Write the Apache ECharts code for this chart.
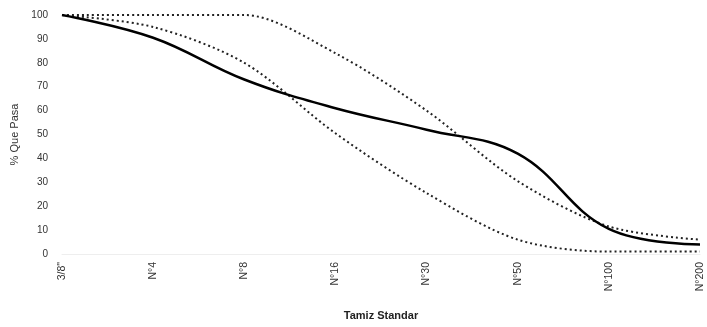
<!DOCTYPE html>
<html><head><meta charset="utf-8">
<script src="https://cdn.jsdelivr.net/npm/echarts@6/dist/echarts.min.js"></script>
<style>html,body{margin:0;padding:0;background:#fff}#c{width:707px;height:327px}</style>
</head><body><div id="c"></div>
<script>
const categories = ['3/8"', 'N°4', 'N°8', 'N°16', 'N°30', 'N°50', 'N°100', 'N°200'];
const muestra = [100, 90.5, 73, 61, 52, 42, 10.5, 4];
const limiteSuperior = [100, 100, 100, 84, 60, 30.5, 11.5, 6];
const limiteInferior = [100, 95, 80, 50.5, 25.5, 6, 1, 1];
const yTicks = [0, 10, 20, 30, 40, 50, 60, 70, 80, 90, 100];

const chart = echarts.init(document.getElementById('c'));
const font = 'Liberation Sans';
chart.setOption({
  animation: false,
  grid: {left: 62, right: 7, top: 15, bottom: 73},
  xAxis: {
    type: 'category', data: categories, boundaryGap: false,
    axisLine: {show: true, lineStyle: {color: '#eeeeee'}},
    axisTick: {show: false},
    axisLabel: {rotate: 90, margin: 8, fontSize: 10.5, color: '#333', fontFamily: font},
    name: 'Tamiz Standar', nameLocation: 'middle', nameGap: 56,
    nameTextStyle: {fontSize: 11, fontWeight: 'bold', color: '#222', fontFamily: font}
  },
  yAxis: {
    type: 'value', min: yTicks[0], max: yTicks[yTicks.length - 1], interval: 10,
    splitLine: {show: false}, axisLine: {show: false}, axisTick: {show: false},
    axisLabel: {fontSize: 10, color: '#333', margin: 14, fontFamily: font},
    name: '% Que Pasa', nameLocation: 'middle', nameGap: 33, nameRotate: 90,
    nameTextStyle: {fontSize: 11, color: '#333', fontFamily: font}
  },
  series: [
    {type: 'line', data: limiteSuperior, smooth: 0.3, symbol: 'none',
     lineStyle: {color: '#222', width: 2, type: [2, 3]}},
    {type: 'line', data: limiteInferior, smooth: 0.3, symbol: 'none',
     lineStyle: {color: '#222', width: 2, type: [2, 3]}},
    {type: 'line', data: muestra, smooth: 0.4, symbol: 'none',
     lineStyle: {color: '#000', width: 2.5}}
  ]
});
</script></body></html>
